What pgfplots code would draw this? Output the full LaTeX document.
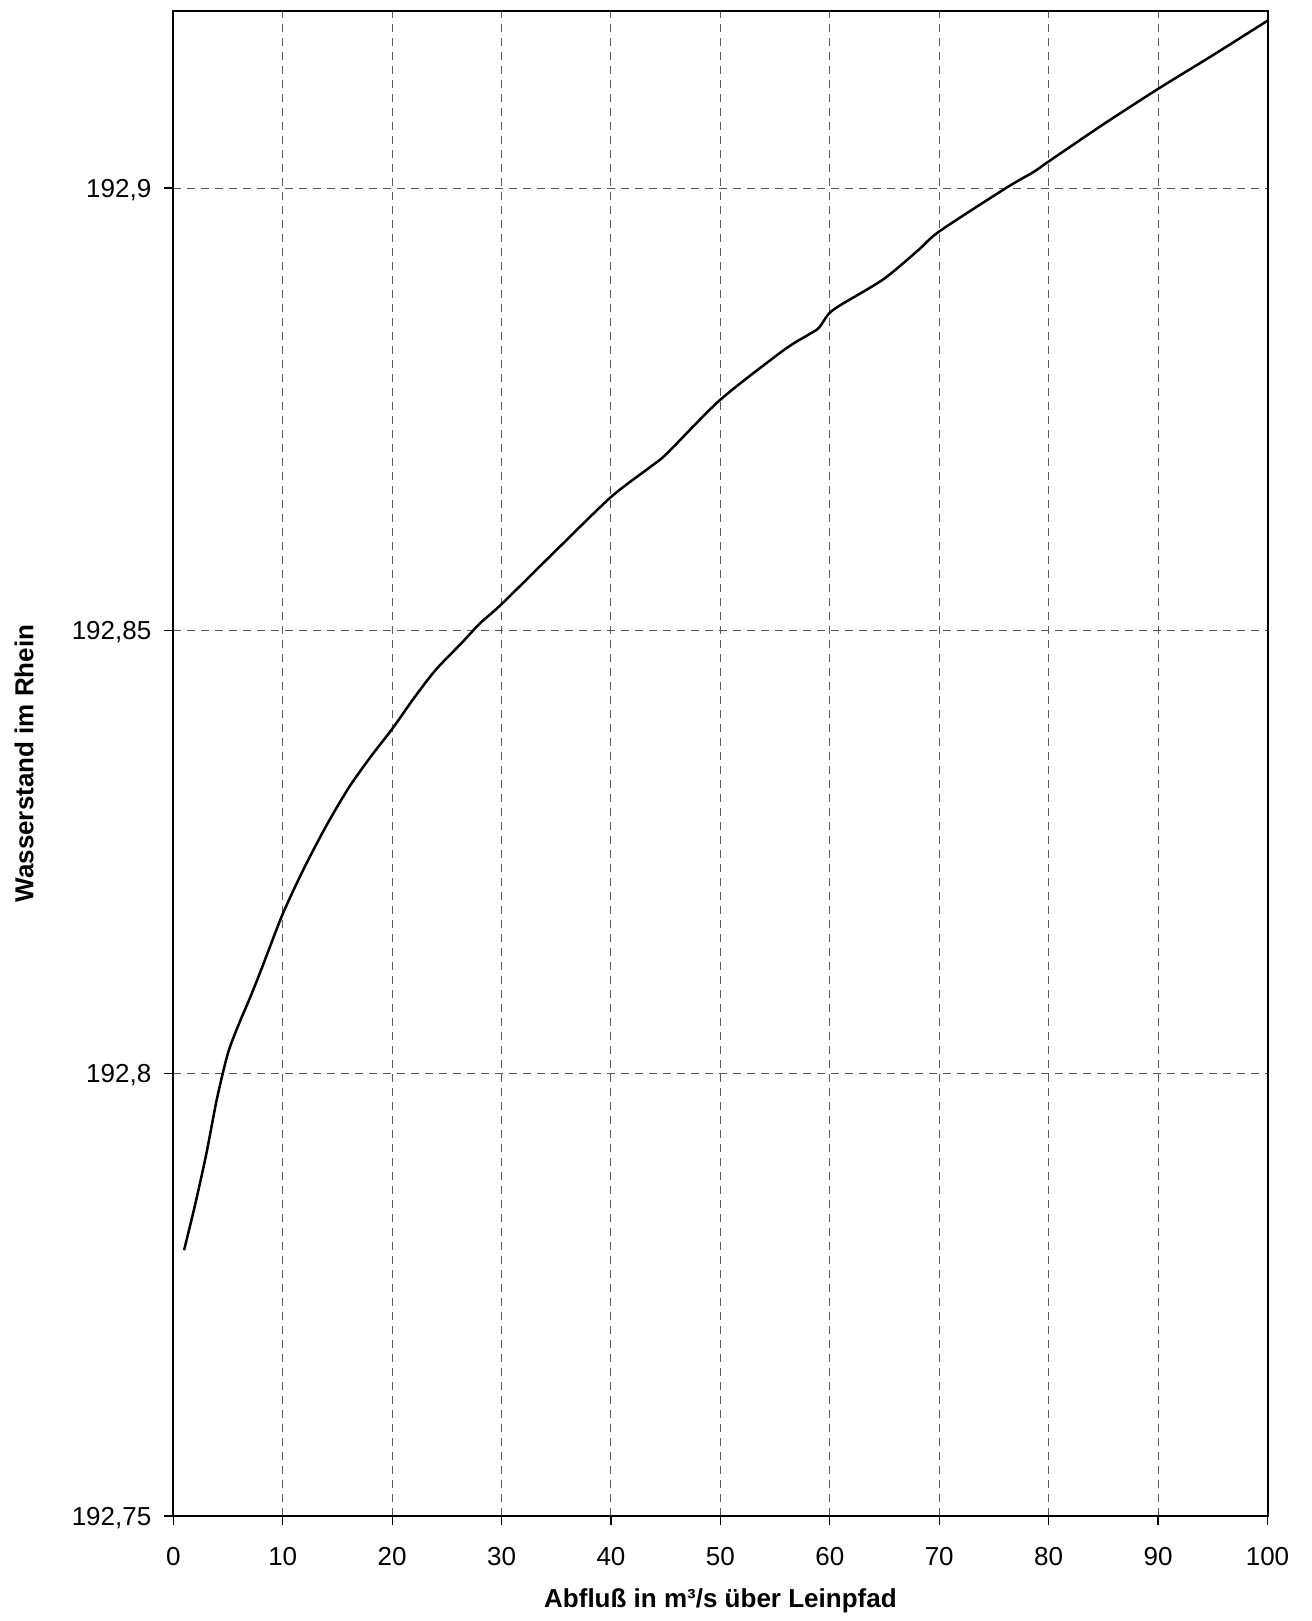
\documentclass[border=0pt]{standalone}
\usepackage{fontspec}
\setmainfont{Liberation Sans}
\usepackage{pgfplots}
\pgfplotsset{compat=1.18}

% The levels all lie in 192.xx; keep only the digits after "192." (read from
% the float mantissa as text) so the small differences keep full precision.
\def\levelshiftfloat1Y1.92#1e2]\relax{\def\pgfmathresult{0.#1}}
\def\levelshift#1{%
  \pgfmathfloatparsenumber{#1}%
  \expandafter\levelshiftfloat\pgfmathresult\relax}

\begin{document}
\begin{tikzpicture}
\begin{axis}[
  scale only axis,
  width=547.1pt, height=752.5pt,
  xmin=0, xmax=100,
  ymin=192.75, ymax=192.92,
  y coord trafo/.code={\levelshift{#1}},
  xtick={0,10,...,100},
  ytick={192.75,192.8,192.85,192.9},
  yticklabels={{192,75},{192,8},{192,85},{192,9}},
  tick pos=left,
  tick align=outside,
  major tick length=4.5pt,
  tick style={black, line width=0.6pt},
  axis line style={black, line width=1pt},
  grid=major,
  major grid style={black!65, line width=0.5pt, dash pattern=on 4pt off 3pt},
  font=\fontsize{13pt}{15.6pt}\selectfont,
  ticklabel style={font=\fontsize{13pt}{15.6pt}\selectfont, inner sep=0pt},
  /pgf/number format/assume math mode=true,
  xticklabel style={anchor=north},
  xticklabel shift=10.85pt,
  yticklabel style={anchor=base east, yshift=-4.65pt},
  yticklabel shift=6.3pt,
  xlabel={\bfseries Abflu\ss{} in m³/s über Leinpfad},
  ylabel={\bfseries Wasserstand im Rhein},
  xlabel style={at={(axis description cs:0.5,0)}, anchor=base, yshift=-45.7pt},
  ylabel style={at={(axis description cs:-0.12795,0.5)}, anchor=base, rotate=0},
]
\addplot[black, line width=1.25pt, smooth, tension=0.45, line join=round, line cap=round] coordinates {
  (1,192.7801) (2,192.7852) (3,192.7908) (4,192.7972) (5,192.8023)
  (6,192.8056) (7,192.8085) (8,192.8116) (10,192.8180)
  (12,192.8233) (14,192.8280) (16,192.8322) (18,192.8357) (20,192.8389)
  (22,192.8424) (24,192.8456) (26.5,192.8488) (28,192.8508) (30,192.8530)
  (35,192.8591) (40,192.8651) (43.6,192.8685) (45.1,192.8700) (50,192.8761)
  (55.8,192.8817) (58,192.8834) (59,192.8842) (59.9,192.8858) (61,192.8868)
  (64.9,192.8897) (68.1,192.8930) (70,192.8951) (76.1,192.9000) (78.6,192.9018)
  (80,192.9030) (85,192.9072) (90,192.9112) (95,192.9150) (100,192.9189)
};
\end{axis}
\pgfresetboundingbox
\path (-86.65pt,-52.5pt) rectangle (568.85pt,758pt);
\end{tikzpicture}
\end{document}
